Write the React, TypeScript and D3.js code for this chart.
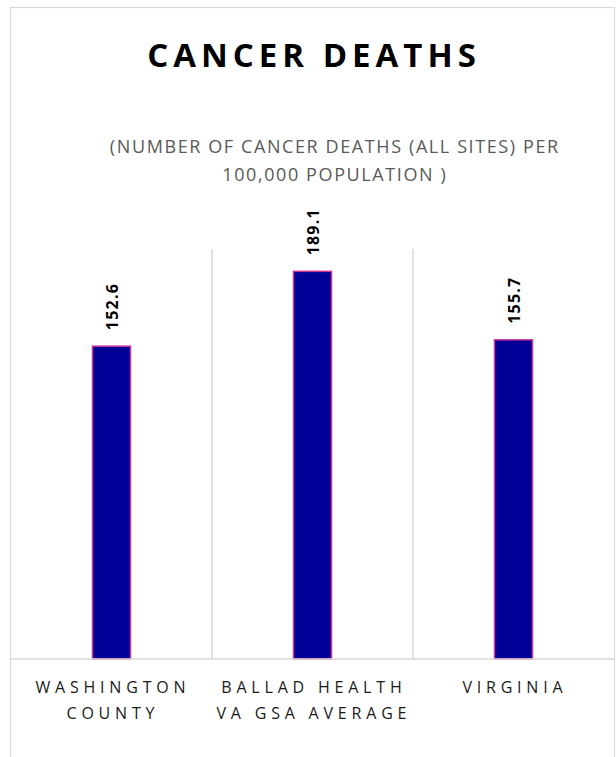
import React from "react";
import * as d3 from "d3";

const categories: string[][] = [
  ["WASHINGTON", "COUNTY"],
  ["BALLAD HEALTH", "VA GSA AVERAGE"],
  ["VIRGINIA"],
];
const values: number[] = [152.6, 189.1, 155.7];
const labels: string[] = ["152.6", "189.1", "155.7"];
const yDomain: [number, number] = [0, 200];
const titleText = "CANCER DEATHS";
const subtitleLines = ["(NUMBER OF CANCER DEATHS (ALL SITES) PER", "100,000 POPULATION )"];

export default function App() {
  const W = 616, H = 757;
  const left = 11, right = 614, top = 249, bottom = 659;
  const x = d3.scaleBand<number>().domain(d3.range(values.length)).range([left, right]).paddingInner(0).paddingOuter(0);
  const y = d3.scaleLinear().domain(yDomain).range([bottom, top]);
  const barW = 38;
  const font = "'Open Sans', 'Noto Sans', sans-serif";
  const titleLs = 5;
  const subLs = 1.6;
  const catLs = 4.8;
  return (
    <div style={{ position: "absolute", left: 0, top: 0 }}>
      <svg width={W} height={H} style={{ display: "block", background: "#fff" }}>
        <rect x={10.5} y={7.5} width={604} height={H + 20} fill="#fff" stroke="#d9d9d9" strokeWidth={1.2} />
        <text x={311.5 + titleLs / 2} y={67} textAnchor="middle" fontFamily={font} fontWeight={700} fontSize={33} letterSpacing={titleLs} fill="#000">
          {titleText}
        </text>
        {subtitleLines.map((s, i) => (
          <text key={i} x={334 + subLs / 2} y={153 + i * 28} textAnchor="middle" fontFamily={font} fontSize={18} letterSpacing={subLs} fill="#595959">
            {s}
          </text>
        ))}
        {d3.range(1, values.length).map((i) => (
          <line key={i} x1={x(i)!} x2={x(i)!} y1={top} y2={bottom} stroke="#d9d9d9" strokeWidth={1.5} />
        ))}
        {values.map((v, i) => {
          const cx = x(i)! + x.bandwidth() / 2;
          return (
            <g key={i}>
              <rect x={cx - barW / 2} y={y(v)} width={barW} height={bottom - y(v)} fill="#000096" stroke="#cc3399" strokeWidth={1.5} />
              <text
                transform={`translate(${cx + 6},${y(v) - 16}) rotate(-90)`}
                fontFamily={font}
                fontWeight={700}
                fontSize={16}
                letterSpacing={1.2}
                fill="#000"
              >
                {labels[i]}
              </text>
            </g>
          );
        })}
        <line x1={left} x2={right + 1} y1={bottom} y2={bottom} stroke="#d9d9d9" strokeWidth={1.5} />
        {categories.map((lines, i) => {
          const cx = x(i)! + x.bandwidth() / 2;
          return lines.map((l, j) => (
            <text key={`${i}-${j}`} x={cx + catLs / 2 - 1} y={693 + j * 26} textAnchor="middle" fontFamily={font} fontSize={16} letterSpacing={catLs} fill="#1a1a1a">
              {l}
            </text>
          ));
        })}
      </svg>
    </div>
  );
}
